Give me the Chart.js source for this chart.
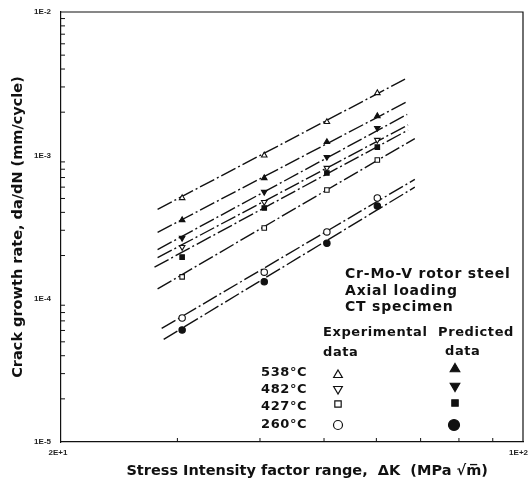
<!DOCTYPE html>
<html><head><meta charset="utf-8">
<script src="https://cdn.jsdelivr.net/npm/chart.js@4.4.0/dist/chart.umd.min.js"></script>
<style>
html,body{margin:0;padding:0;background:#fff;}
#wrap{position:relative;width:529px;height:490px;overflow:hidden;}
canvas{position:absolute;left:0;top:0;}
.t{position:absolute;font-family:"DejaVu Sans";font-weight:bold;font-size:13px;color:#111;white-space:nowrap;line-height:1;letter-spacing:0.6px;}
.b{font-size:14px;letter-spacing:0.8px;}
</style></head><body>
<div id="wrap">
<canvas id="c" width="529" height="490"></canvas>
<div class="t b" style="left:345px;top:266px">Cr-Mo-V rotor steel</div>
<div class="t b" style="left:345px;top:283px">Axial loading</div>
<div class="t b" style="left:345px;top:299px">CT specimen</div>
<div class="t" style="left:323px;top:325px">Experimental</div>
<div class="t" style="left:323px;top:345px">data</div>
<div class="t" style="left:438px;top:325px">Predicted</div>
<div class="t" style="left:445px;top:344px">data</div>
<div class="t" style="left:261px;top:365px">538°C</div>
<div class="t" style="left:261px;top:382px">482°C</div>
<div class="t" style="left:261px;top:399px">427°C</div>
<div class="t" style="left:261px;top:417px">260°C</div>
</div>
<script>
// ---- data ----
const deltaK = [30.5, 40.6, 50.5, 60.2];
const exp538 = [5.04e-4, 1.0e-3, 1.71e-3, 2.72e-3];
const pred538 = [3.54e-4, 6.95e-4, 1.24e-3, 1.88e-3];
const exp482 = [2.29e-4, 4.72e-4, 8.16e-4, 1.28e-3];
const pred482 = [2.65e-4, 5.55e-4, 9.73e-4, 1.55e-3];
const exp427 = [1.42e-4, 3.11e-4, 5.73e-4, 9.28e-4];
const pred427 = [1.95e-4, 4.29e-4, 7.53e-4, 1.14e-3];
const exp260 = [7.33e-5, 1.53e-4, 2.92e-4, 5.04e-4];
const pred260 = [6.04e-5, 1.31e-4, 2.44e-4, 4.43e-4];

// fitted lines: [start, end]
const fitX538e = [28, 66.3],   fit538Exp = [4.2e-4, 3.4e-3];
const fitX538p = [28, 66.7],   fit538Pred = [2.9e-4, 2.36e-3];
const fitX482p = [28, 66.8],   fit482Pred = [2.2e-4, 1.93e-3];
const fitX482e = [28, 67.0],   fit482Exp = [1.93e-4, 1.63e-3];
const fitX427p = [27.7, 67.0], fit427Pred = [1.66e-4, 1.5e-3];
const fitX427e = [28, 68.6],   fit427Exp = [1.17e-4, 1.31e-3];
const fitX260e = [28.4, 68.6], fit260Exp = [6.2e-5, 6.8e-4];
const fitX260p = [28.6, 68.6], fit260Pred = [5.2e-5, 6.0e-4];

const xTickValues = [20, 100];
const xTickLabels = ['2E+1', '1E+2'];
const yTickValues = [1e-5, 1e-4, 1e-3, 1e-2];
const yTickLabels = ['1E-5', '1E-4', '1E-3', '1E-2'];
const xMinorTicks = [30, 40, 50, 60, 70, 80, 90];
const yMinorMantissas = [2, 3, 4, 5, 6, 7, 8, 9];
const yDecades = [1e-5, 1e-4, 1e-3];

const INK = '#111';
const pts = (xs, ys) => xs.map((x, i) => ({x: x, y: ys[i]}));
const dash = [16, 3, 2, 3];
function lineDS(xs, ys) {
  return {type: 'line', data: pts(xs, ys), borderColor: INK, borderWidth: 1.4,
    borderDash: dash, pointRadius: 0, showLine: true, fill: false, order: 2};
}
function markDS(ys, style, rot, filled) {
  return {type: 'scatter', data: pts(deltaK, ys), pointStyle: style, rotation: rot,
    pointRadius: 3.2, borderColor: INK, borderWidth: 1.1,
    backgroundColor: filled ? INK : '#fff', order: 1};
}
function noPad(s) { s.paddingLeft = 0; s.paddingRight = 0; s.paddingTop = 0; s.paddingBottom = 0; }

const frame = {
  id: 'frame',
  afterDraw(chart) {
    const {ctx, chartArea: a, scales: {x, y}} = chart;
    ctx.save();
    ctx.strokeStyle = INK; ctx.lineWidth = 1.2;
    ctx.beginPath();
    ctx.moveTo(a.left, a.top); ctx.lineTo(a.right, a.top); ctx.lineTo(a.right, a.bottom);
    ctx.stroke();
    ctx.lineWidth = 1;
    ctx.beginPath();
    xMinorTicks.forEach(v => { const px = x.getPixelForValue(v); ctx.moveTo(px, a.bottom); ctx.lineTo(px, a.bottom - 4); });
    yDecades.forEach(d => yMinorMantissas.forEach(m => {
      const py = y.getPixelForValue(d * m); ctx.moveTo(a.left, py); ctx.lineTo(a.left + 4, py);
    }));
    ctx.stroke();
    // x tick labels (first centred, last kept inside the canvas)
    ctx.fillStyle = '#222';
    ctx.font = 'bold 8px "Liberation Sans"';
    ctx.textBaseline = 'middle';
    xTickValues.forEach((v, i) => {
      const px = x.getPixelForValue(v);
      ctx.textAlign = i === xTickValues.length - 1 ? 'right' : 'center';
      ctx.fillText(xTickLabels[i], i === xTickValues.length - 1 ? 528 : px - 3, a.bottom + 11);
    });
    // legend symbols
    const H = Chart.helpers;
    const sym = (style, rot, filled, px, py, r) => {
      ctx.fillStyle = filled ? INK : '#fff'; ctx.strokeStyle = INK; ctx.lineWidth = 1.2;
      H.drawPoint(ctx, {pointStyle: style, rotation: rot, radius: r, borderWidth: 1.2}, px, py);
    };
    sym('triangle', 0, false, 338, 375, 5);
    sym('triangle', 180, false, 338, 389, 5);
    sym('rect', 0, false, 338, 404, 4.5);
    sym('circle', 0, false, 338, 425, 4.5);
    sym('triangle', 0, true, 455, 369, 5.5);
    sym('triangle', 180, true, 455, 386, 5.5);
    sym('rect', 0, true, 455, 403, 4.5);
    sym('circle', 0, true, 454, 425, 5.5);
    ctx.restore();
  }
};

new Chart(document.getElementById('c'), {
  type: 'scatter',
  data: {datasets: [
    lineDS(fitX538e, fit538Exp), lineDS(fitX538p, fit538Pred),
    lineDS(fitX482p, fit482Pred), lineDS(fitX482e, fit482Exp),
    lineDS(fitX427p, fit427Pred), lineDS(fitX427e, fit427Exp),
    lineDS(fitX260e, fit260Exp), lineDS(fitX260p, fit260Pred),
    markDS(exp538, 'triangle', 0, false), markDS(pred538, 'triangle', 0, true),
    markDS(exp482, 'triangle', 180, false), markDS(pred482, 'triangle', 180, true),
    markDS(exp427, 'rect', 0, false), markDS(pred427, 'rect', 0, true),
    markDS(exp260, 'circle', 0, false), markDS(pred260, 'circle', 0, true)
  ]},
  options: {
    responsive: false, animation: false, devicePixelRatio: 1,
    layout: {padding: {top: 12, right: 6, left: 0, bottom: 0}, autoPadding: false},
    plugins: {legend: {display: false}, tooltip: {enabled: false}},
    scales: {
      x: {type: 'logarithmic', min: 20, max: 100, position: 'bottom',
        grid: {display: false, drawTicks: false}, border: {display: true, color: INK, width: 1.2},
        afterBuildTicks: s => { s.ticks = xTickValues.map(v => ({value: v})); },
        afterFit: s => { s.height = 48; noPad(s); },
        ticks: {display: false},
        title: {display: true, text: '      Stress Intensity factor range,  \u0394K  (MPa \u221Am\u0305)',
          color: INK, padding: {top: 0, bottom: 10},
          font: {family: 'DejaVu Sans', size: 14.5, weight: 'bold'}}
      },
      y: {type: 'logarithmic', min: 1e-5, max: 1e-2, position: 'left',
        grid: {display: false, drawTicks: false}, border: {display: true, color: INK, width: 1.2},
        afterBuildTicks: s => { s.ticks = yTickValues.map(v => ({value: v})); },
        afterFit: s => { s.width = 61; noPad(s); },
        ticks: {autoSkip: false, padding: 10, color: '#222',
          font: {family: 'Liberation Sans', size: 8, weight: 'bold'},
          callback: (v, i) => yTickLabels[i]},
        title: {display: true, text: 'Crack growth rate, da/dN (mm/cycle)',
          color: INK, padding: {top: 10, bottom: 0},
          font: {family: 'DejaVu Sans', size: 14.5, weight: 'bold'}}
      }
    }
  },
  plugins: [frame]
});
</script>
</body></html>
